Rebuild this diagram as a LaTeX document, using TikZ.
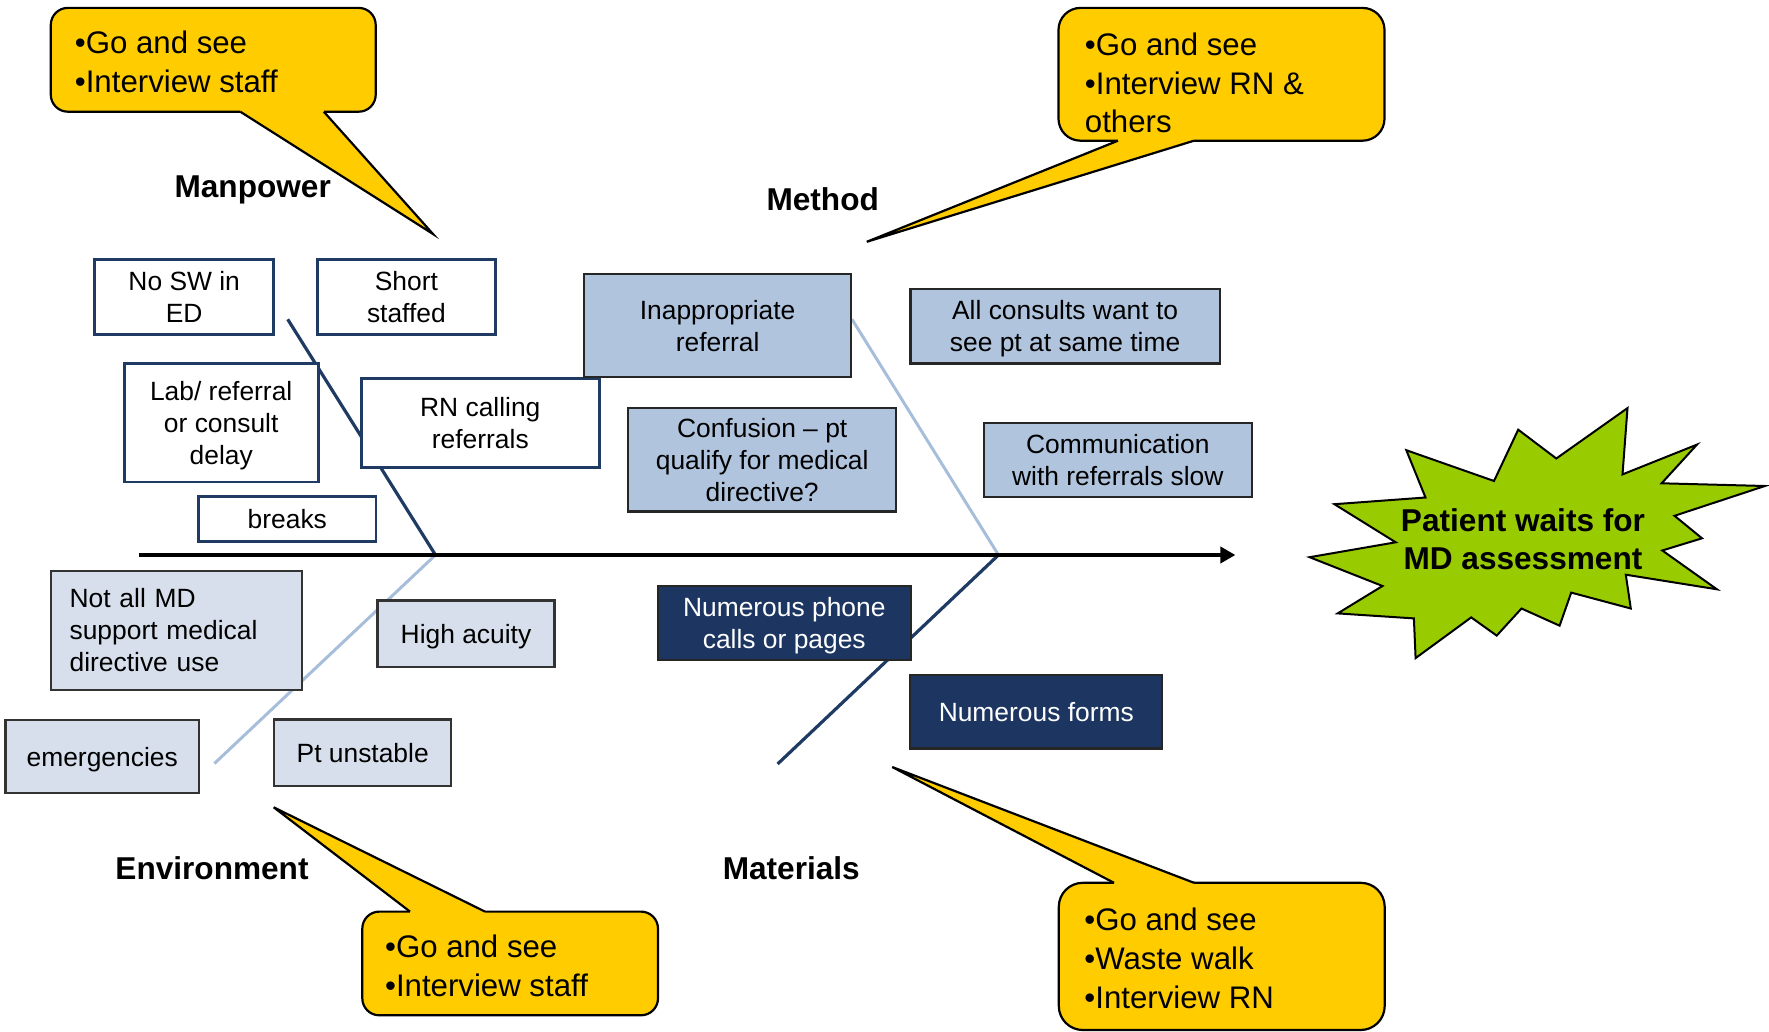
\documentclass[tikz,border=0pt]{standalone}
\usepackage{fontspec}
\setmainfont{Liberation Sans}
\usetikzlibrary{arrows.meta}
\definecolor{navyline}{HTML}{1F3A63}
\definecolor{navyfill}{HTML}{1C3661}
\definecolor{methodblue}{HTML}{B0C4DE}
\definecolor{envblue}{HTML}{D6DFEB}
\definecolor{lightbone}{HTML}{A7BEDB}
\definecolor{calloutyellow}{HTML}{FFCC00}
\definecolor{burstgreen}{HTML}{99CC00}
\newcommand\bxfont{\fontsize{13.2pt}{16pt}\selectfont}
\newcommand\clfont{\fontsize{15.6pt}{19.3pt}\selectfont}
\newcommand\lbfont{\fontsize{15.8pt}{19pt}\selectfont\bfseries}
\newcommand\nodp[1]{\raisebox{0pt}[\height][0pt]{#1}}
\begin{document}
\begin{tikzpicture}[x=0.5pt,y=-0.5pt,
  anybox/.style={inner sep=0pt, align=center, font=\bxfont},
  mpbox/.style={anybox, draw=navyline, line width=1.4pt, fill=white},
  mtbox/.style={anybox, draw=black!85, line width=1.1pt, fill=methodblue},
  envbox/.style={anybox, draw=black!80, line width=1.1pt, fill=envblue},
  mabox/.style={anybox, draw=black!85, line width=1.1pt, fill=navyfill, text=white},
  catlabel/.style={font=\lbfont, anchor=base, inner sep=0pt},
  cltext/.style={font=\clfont, anchor=west, align=left, inner sep=0pt},
  callout/.style={fill=calloutyellow, draw=black, line width=1.1pt},
  calloutline/.style={draw=black, line width=1.1pt, line join=miter},
  bonedark/.style={draw=navyline, line width=1.6pt},
  bonelight/.style={draw=lightbone, line width=1.5pt},
  spine/.style={draw=black, line width=1.9pt, -{Triangle[length=7.5pt,width=8pt]}},
  burst/.style={fill=burstgreen, draw=black, line width=1pt, line join=miter},
  bursttext/.style={font=\fontsize{15.8pt}{19pt}\selectfont\bfseries, align=center, inner sep=0pt}
]
\useasboundingbox (0,0) rectangle (1769,1032);

% fishbone skeleton
\coordinate (spineL) at (138.8,555);
\coordinate (spineR) at (1235.4,555);
\coordinate (j1) at (435.5,555);
\coordinate (j2) at (998.5,555);
\coordinate (mpEnd) at (287.7,319.3);
\coordinate (envEnd) at (214.4,763.5);
\coordinate (mtEnd) at (852,319.3);
\coordinate (maEnd) at (777.6,764);

\draw[bonedark] (mpEnd) -- (j1);
\draw[bonelight] (j1) -- (envEnd);
\draw[bonelight] (mtEnd) -- (j2);
\draw[bonedark] (j2) -- (maEnd);
\draw[spine] (spineL) -- (spineR);

% Manpower causes
\node[mpbox, minimum width=89.4pt, minimum height=37.4pt] (noSW) at (184.2,296.9) {No SW in\\ED};
\node[mpbox, minimum width=89.2pt, minimum height=37.4pt] (short) at (406.4,296.9) {Short\\staffed};
\node[mpbox, minimum width=96.9pt, minimum height=59.4pt] (lab) at (221.2,422.7) {Lab/ referral\\or consult\\\nodp{delay}};
\node[mpbox, minimum width=119pt, minimum height=44.7pt] (rn) at (480.3,423) {RN calling\\referrals};
\node[mpbox, minimum width=88.7pt, minimum height=22.5pt] (breaks) at (287.3,518.9) {breaks};

% Method causes
\node[mtbox, minimum width=133.6pt, minimum height=51.6pt] (inapp) at (717.6,325.8) {Inappropriate\\referral};
\node[mtbox, minimum width=154.6pt, minimum height=37.4pt] (allc) at (1065.1,326.1) {All consults want to\\\nodp{see pt at same time}};
\node[mtbox, minimum width=133.9pt, minimum height=51.7pt] (conf) at (762.2,459.8) {Confusion – pt\\qualify for medical\\directive?};
\node[mtbox, minimum width=133.8pt, minimum height=36.9pt] (comm) at (1117.8,460) {Communication\\with referrals slow};

% Environment causes
\node[envbox, align=left, text width=106.6pt, inner xsep=9.5pt, minimum height=59.4pt] (notall) at (176.2,630.2) {Not all MD\\support medical\\directive use};
\node[envbox, minimum width=88.5pt, minimum height=33.3pt] (high) at (466,633.7) {\nodp{High acuity}};
\node[envbox, minimum width=96.7pt, minimum height=36.7pt] (emerg) at (102.2,756.5) {\nodp{emergencies}};
\node[envbox, minimum width=88.6pt, minimum height=33.4pt] (unst) at (362.7,752.8) {Pt unstable};

% Materials causes
\node[mabox, minimum width=126.5pt, minimum height=37.2pt] (phone) at (784.3,622.8) {Numerous phone\\\nodp{calls or pages}};
\node[mabox, minimum width=126pt, minimum height=36.9pt] (forms) at (1036.3,711.6) {Numerous forms};

% category labels
\node[catlabel] (lMP) at (252.7,197.5) {Manpower};
\node[catlabel] (lMT) at (822.7,211) {Method};
\node[catlabel] (lEN) at (212,879) {Environment};
\node[catlabel] (lMA) at (791.3,879) {Materials};

% callouts
\draw[callout, rounded corners=8.5pt] (50.8,7.9) rectangle (375.7,111.7);
\fill[calloutyellow] (240.3,111.7) -- (433,234) -- (323.8,111.7) -- (323.8,105) -- (240.3,105) -- cycle;
\draw[calloutline] (240.3,111.7) -- (433,234) -- (323.8,111.7);

\draw[callout, rounded corners=11pt] (1058.5,7.9) rectangle (1384.5,140.7);
\fill[calloutyellow] (1118,140.7) -- (866.8,241.8) -- (1194,140.7) -- (1194,134) -- (1118,134) -- cycle;
\draw[calloutline] (1118,140.7) -- (866.8,241.8) -- (1194,140.7);

\draw[callout, rounded corners=8.5pt] (362.3,911.6) rectangle (658,1015.3);
\fill[calloutyellow] (410,911.6) -- (273.7,807.3) -- (485,911.6) -- (485,918) -- (410,918) -- cycle;
\draw[calloutline] (410,911.6) -- (273.7,807.3) -- (485,911.6);

\draw[callout, rounded corners=12pt] (1058.8,882.8) rectangle (1384.7,1030);
\fill[calloutyellow] (1114,882.8) -- (892.2,767) -- (1194,882.8) -- (1194,889) -- (1114,889) -- cycle;
\draw[calloutline] (1114,882.8) -- (892.2,767) -- (1194,882.8);

\node[cltext] (cMP) at (74.5,62) {•Go and see\\•Interview staff};
\node[cltext] (cMT) at (1084.5,83) {•Go and see\\•Interview RN \&\\others};
\node[cltext] (cEN) at (384.7,966) {•Go and see\\•Interview staff};
\node[cltext] (cMA) at (1084,958.3) {•Go and see\\•Waste walk\\•Interview RN};

% effect starburst
\draw[burst] (1406.3,450.2) -- (1494.0,481.0) -- (1518.2,429.7) -- (1556.3,458.5)
  -- (1627.5,408.1) -- (1622.5,474.4) -- (1697.0,444.6) -- (1661.6,483.3)
  -- (1764.9,486.0) -- (1674.5,515.8) -- (1702.0,538.3) -- (1662.3,550.5)
  -- (1716.9,589.3) -- (1625.8,574.7) -- (1630.8,608.5) -- (1571.2,592.6)
  -- (1559.6,625.7) -- (1521.5,608.5) -- (1496.7,635.6) -- (1471.2,617.4)
  -- (1415.6,658.1) -- (1413.9,618.4) -- (1337.7,613.4) -- (1382.5,586.0)
  -- (1309.6,557.2) -- (1395.7,542.3) -- (1334.4,504.2) -- (1425.5,497.5) -- cycle;
\node[bursttext] (effect) at (1523,539) {Patient waits for\\MD assessment};
\end{tikzpicture}
\end{document}
